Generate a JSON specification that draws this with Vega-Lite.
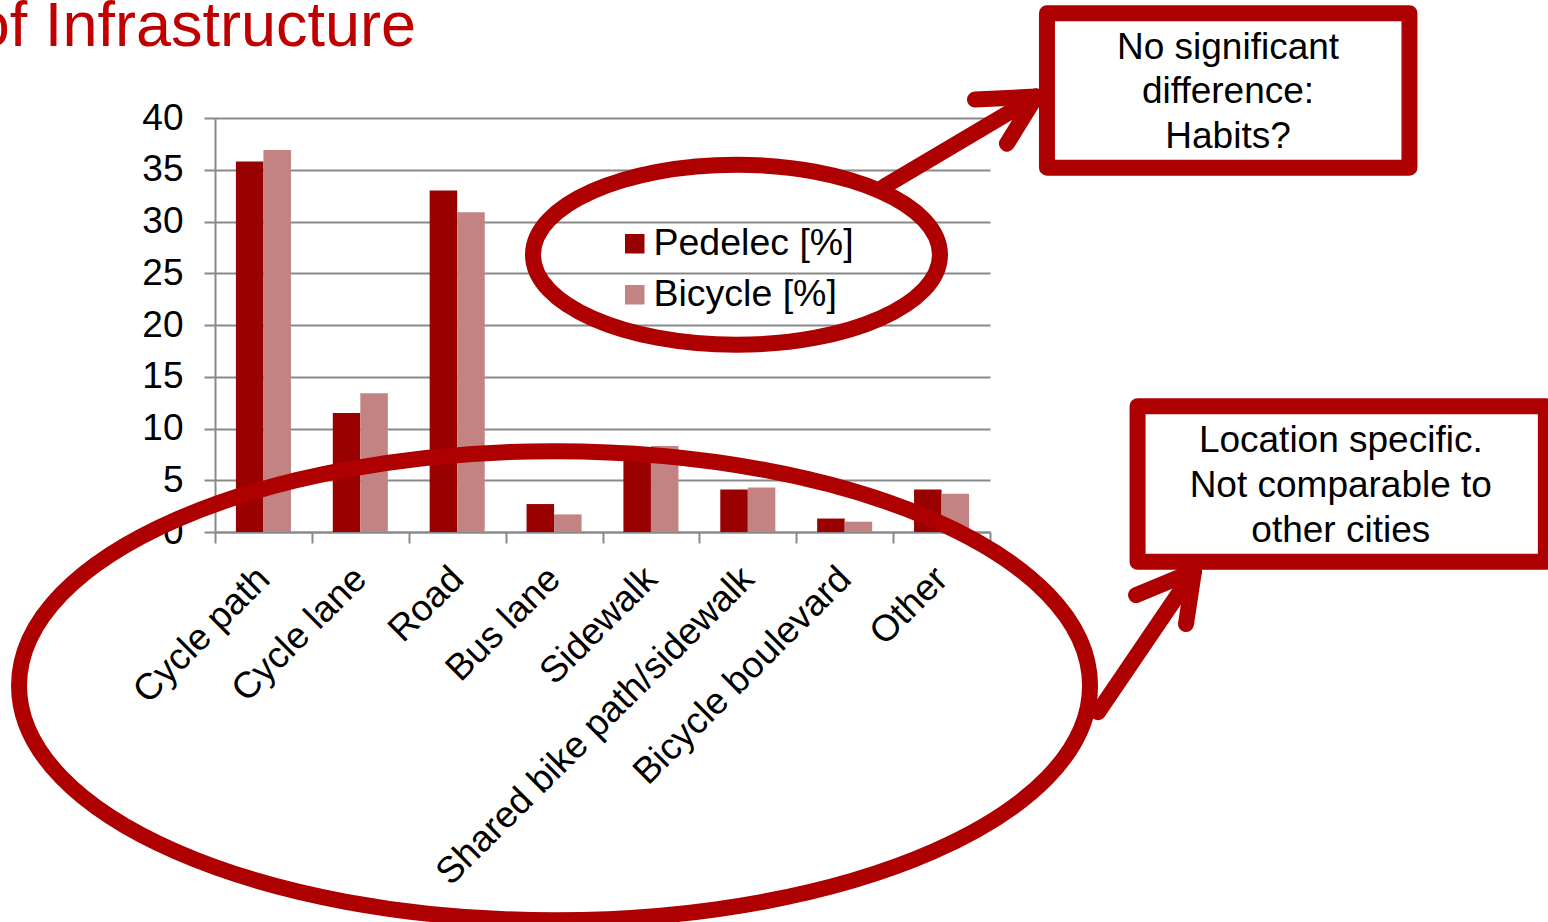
{
  "$schema": "https://vega.github.io/schema/vega-lite/v6.json",
  "width": 775,
  "height": 414,
  "autosize": {"type": "none"},
  "padding": {"left": 215, "top": 118, "right": 558, "bottom": 390},
  "background": "white",
  "config": {"view": {"stroke": null}, "font": "Liberation Sans"},
  "layer": [
    {
      "data": {
        "values": [
          {"category": "Cycle path", "series": "Pedelec [%]", "value": 35.8},
          {"category": "Cycle path", "series": "Bicycle [%]", "value": 36.9},
          {"category": "Cycle lane", "series": "Pedelec [%]", "value": 11.5},
          {"category": "Cycle lane", "series": "Bicycle [%]", "value": 13.4},
          {"category": "Road", "series": "Pedelec [%]", "value": 33.0},
          {"category": "Road", "series": "Bicycle [%]", "value": 30.9},
          {"category": "Bus lane", "series": "Pedelec [%]", "value": 2.7},
          {"category": "Bus lane", "series": "Bicycle [%]", "value": 1.7},
          {"category": "Sidewalk", "series": "Pedelec [%]", "value": 7.6},
          {"category": "Sidewalk", "series": "Bicycle [%]", "value": 8.3},
          {"category": "Shared bike path/sidewalk", "series": "Pedelec [%]", "value": 4.1},
          {"category": "Shared bike path/sidewalk", "series": "Bicycle [%]", "value": 4.3},
          {"category": "Bicycle boulevard", "series": "Pedelec [%]", "value": 1.3},
          {"category": "Bicycle boulevard", "series": "Bicycle [%]", "value": 1.0},
          {"category": "Other", "series": "Pedelec [%]", "value": 4.1},
          {"category": "Other", "series": "Bicycle [%]", "value": 3.7}
        ]
      },
      "mark": {"type": "bar"},
      "encoding": {
        "x": {
          "field": "category", "type": "nominal", "sort": null,
          "scale": {"paddingInner": 0, "paddingOuter": 0},
          "axis": {
            "title": null, "labelAngle": -45, "labelAlign": "right", "labelBaseline": "middle",
            "labelFontSize": 37, "labelColor": "black", "labelPadding": 30, "labelLimit": 0,
            "labelOverlap": false, "tickBand": "extent", "tickSize": 11, "tickColor": "#898989",
            "tickWidth": 2, "domainColor": "#898989", "domainWidth": 2, "grid": false
          }
        },
        "xOffset": {
          "field": "series", "type": "nominal",
          "scale": {"domain": ["Pedelec [%]", "Bicycle [%]"], "paddingInner": 0, "paddingOuter": 0.76}
        },
        "y": {
          "field": "value", "type": "quantitative",
          "scale": {"domain": [0, 40], "nice": false},
          "axis": {
            "title": null, "values": [0, 5, 10, 15, 20, 25, 30, 35, 40],
            "labelFontSize": 37, "labelColor": "black", "labelPadding": 21,
            "tickSize": 11, "tickColor": "#898989", "tickWidth": 2,
            "domainColor": "#898989", "domainWidth": 2,
            "grid": true, "gridColor": "#898989", "gridWidth": 2
          }
        },
        "color": {
          "field": "series", "type": "nominal",
          "scale": {"domain": ["Pedelec [%]", "Bicycle [%]"], "range": ["#990000", "#C38383"]},
          "legend": {
            "title": null, "orient": "none", "legendX": 401, "legendY": 107,
            "symbolType": "square", "symbolSize": 380, "symbolStrokeWidth": 0,
            "labelFontSize": 37.5, "labelColor": "black", "labelOffset": 0,
            "rowPadding": 12, "padding": 0, "labelLimit": 0
          }
        }
      }
    },
    {
      "data": {"values": [{}]},
      "layer": [
        {
          "mark": {"type": "text", "text": "of Infrastructure", "fontSize": 63, "align": "right", "baseline": "alphabetic", "color": "#C00000"},
          "encoding": {
            "x": {"datum": 2.075, "type": "quantitative", "scale": {"domain": [0, 8], "nice": false, "zero": false}, "axis": null},
            "y": {"datum": 46.93, "type": "quantitative", "scale": {"domain": [0, 40], "nice": false, "zero": false}, "axis": null}
          }
        },
        {
          "mark": {"type": "point", "shape": "M 1 0 C 1 0.2419 0.5523 0.4379 0 0.4379 C -0.5523 0.4379 -1 0.2419 -1 0 C -1 -0.2419 -0.5523 -0.4379 0 -0.4379 C 0.5523 -0.4379 1 -0.2419 1 0 Z", "size": 1147041, "filled": false, "color": "#AE0000", "strokeWidth": 16, "opacity": 1},
          "encoding": {
            "x": {"datum": 3.505, "type": "quantitative", "scale": {"domain": [0, 8], "nice": false, "zero": false}, "axis": null},
            "y": {"datum": -14.85, "type": "quantitative", "scale": {"domain": [0, 40], "nice": false, "zero": false}, "axis": null}
          }
        },
        {
          "mark": {"type": "point", "shape": "M 1 0 C 1 0.2443 0.5523 0.4423 0 0.4423 C -0.5523 0.4423 -1 0.2443 -1 0 C -1 -0.2443 -0.5523 -0.4423 0 -0.4423 C 0.5523 -0.4423 1 -0.2443 1 0 Z", "size": 165649, "filled": false, "color": "#AE0000", "strokeWidth": 16, "opacity": 1},
          "encoding": {
            "x": {"datum": 5.383, "type": "quantitative", "scale": {"domain": [0, 8], "nice": false, "zero": false}, "axis": null},
            "y": {"datum": 26.79, "type": "quantitative", "scale": {"domain": [0, 40], "nice": false, "zero": false}, "axis": null}
          }
        },
        {
          "mark": {"type": "rule", "color": "#AE0000", "strokeWidth": 16, "strokeCap": "round"},
          "encoding": {
            "x": {"datum": 6.906, "type": "quantitative", "scale": {"domain": [0, 8], "nice": false, "zero": false}, "axis": null},
            "y": {"datum": 33.37, "type": "quantitative", "scale": {"domain": [0, 40], "nice": false, "zero": false}, "axis": null},
            "x2": {"datum": 8.475},
            "y2": {"datum": 42.07}
          }
        },
        {
          "mark": {"type": "rule", "color": "#AE0000", "strokeWidth": 16, "strokeCap": "round"},
          "encoding": {
            "x": {"datum": 7.845, "type": "quantitative", "scale": {"domain": [0, 8], "nice": false, "zero": false}, "axis": null},
            "y": {"datum": 41.78, "type": "quantitative", "scale": {"domain": [0, 40], "nice": false, "zero": false}, "axis": null},
            "x2": {"datum": 8.475},
            "y2": {"datum": 42.07}
          }
        },
        {
          "mark": {"type": "rule", "color": "#AE0000", "strokeWidth": 16, "strokeCap": "round"},
          "encoding": {
            "x": {"datum": 8.175, "type": "quantitative", "scale": {"domain": [0, 8], "nice": false, "zero": false}, "axis": null},
            "y": {"datum": 37.52, "type": "quantitative", "scale": {"domain": [0, 40], "nice": false, "zero": false}, "axis": null},
            "x2": {"datum": 8.475},
            "y2": {"datum": 42.07}
          }
        },
        {
          "mark": {"type": "rule", "color": "#AE0000", "strokeWidth": 16, "strokeCap": "round"},
          "encoding": {
            "x": {"datum": 9.115, "type": "quantitative", "scale": {"domain": [0, 8], "nice": false, "zero": false}, "axis": null},
            "y": {"datum": -17.41, "type": "quantitative", "scale": {"domain": [0, 40], "nice": false, "zero": false}, "axis": null},
            "x2": {"datum": 10.106},
            "y2": {"datum": -3.772}
          }
        },
        {
          "mark": {"type": "rule", "color": "#AE0000", "strokeWidth": 16, "strokeCap": "round"},
          "encoding": {
            "x": {"datum": 9.507, "type": "quantitative", "scale": {"domain": [0, 8], "nice": false, "zero": false}, "axis": null},
            "y": {"datum": -6.093, "type": "quantitative", "scale": {"domain": [0, 40], "nice": false, "zero": false}, "axis": null},
            "x2": {"datum": 10.106},
            "y2": {"datum": -3.772}
          }
        },
        {
          "mark": {"type": "rule", "color": "#AE0000", "strokeWidth": 16, "strokeCap": "round"},
          "encoding": {
            "x": {"datum": 10.023, "type": "quantitative", "scale": {"domain": [0, 8], "nice": false, "zero": false}, "axis": null},
            "y": {"datum": -8.897, "type": "quantitative", "scale": {"domain": [0, 40], "nice": false, "zero": false}, "axis": null},
            "x2": {"datum": 10.106},
            "y2": {"datum": -3.772}
          }
        },
        {
          "mark": {"type": "rect", "fill": "white", "stroke": "#AE0000", "strokeWidth": 16, "strokeJoin": "round"},
          "encoding": {
            "x": {"datum": 8.588, "type": "quantitative", "scale": {"domain": [0, 8], "nice": false, "zero": false}, "axis": null},
            "y": {"datum": 50.13, "type": "quantitative", "scale": {"domain": [0, 40], "nice": false, "zero": false}, "axis": null},
            "x2": {"datum": 12.33},
            "y2": {"datum": 35.2}
          }
        },
        {
          "mark": {"type": "rect", "fill": "white", "stroke": "#AE0000", "strokeWidth": 16, "strokeJoin": "round"},
          "encoding": {
            "x": {"datum": 9.523, "type": "quantitative", "scale": {"domain": [0, 8], "nice": false, "zero": false}, "axis": null},
            "y": {"datum": 12.16, "type": "quantitative", "scale": {"domain": [0, 40], "nice": false, "zero": false}, "axis": null},
            "x2": {"datum": 13.738},
            "y2": {"datum": -2.872}
          }
        },
        {
          "mark": {"type": "text", "text": ["No significant", "difference:", "Habits?"], "fontSize": 37, "lineHeight": 44.5, "align": "center", "baseline": "alphabetic", "color": "black"},
          "encoding": {
            "x": {"datum": 10.457, "type": "quantitative", "scale": {"domain": [0, 8], "nice": false, "zero": false}, "axis": null},
            "y": {"datum": 45.72, "type": "quantitative", "scale": {"domain": [0, 40], "nice": false, "zero": false}, "axis": null}
          }
        },
        {
          "mark": {"type": "text", "text": ["Location specific.", "Not comparable to", "other cities"], "fontSize": 37, "lineHeight": 45, "align": "center", "baseline": "alphabetic", "color": "black"},
          "encoding": {
            "x": {"datum": 11.621, "type": "quantitative", "scale": {"domain": [0, 8], "nice": false, "zero": false}, "axis": null},
            "y": {"datum": 7.766, "type": "quantitative", "scale": {"domain": [0, 40], "nice": false, "zero": false}, "axis": null}
          }
        }
      ]
    }
  ],
  "resolve": {"scale": {"x": "independent", "y": "independent"}}
}
